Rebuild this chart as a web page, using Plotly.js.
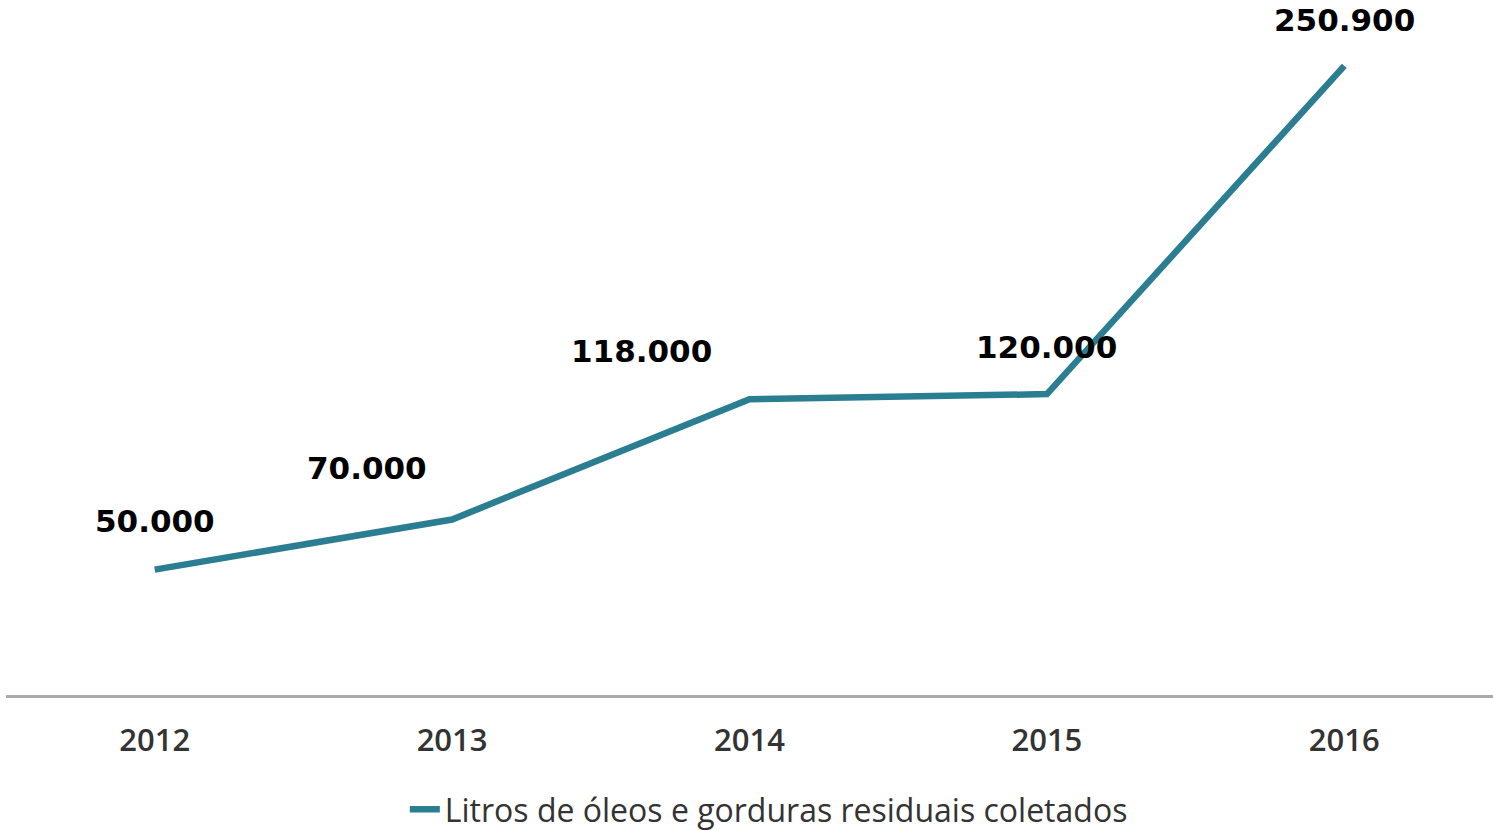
<!DOCTYPE html>
<html>
<head>
<meta charset="utf-8">
<script src="https://cdn.plot.ly/plotly-3.0.1.min.js"></script>
<style>html,body{margin:0;padding:0;background:#fff;}#chart{width:1493px;height:830px;}</style>
</head>
<body>
<div id="chart"></div>
<script>
const years = ['2012', '2013', '2014', '2015', '2016'];
const litros = [50000, 70000, 118000, 120000, 250900];
const labels = ['50.000', '70.000', '118.000', '120.000', '250.900'];
const seriesName = 'Litros de óleos e gorduras residuais coletados';

const labelShift = [[0, 49], [-85, 51], [-108, 48], [0, 47], [0, 46]];

const trace = {
  x: years, y: litros, type: 'scatter', mode: 'lines', name: seriesName,
  line: {color: '#2B7E92', width: 6.5}, hoverinfo: 'x+y'
};

const annotations = years.map((yr, i) => ({
  x: i, y: litros[i], xref: 'x', yref: 'y', text: '<b>' + labels[i] + '</b>', showarrow: false,
  xshift: labelShift[i][0], yshift: labelShift[i][1], xanchor: 'center', yanchor: 'middle',
  font: {family: 'DejaVu Sans, sans-serif', size: 31, color: '#000'}
}));

const layout = {
  width: 1493, height: 830,
  margin: {l: 6, r: 0, t: 18, b: 135, autoexpand: false},
  paper_bgcolor: '#fff', plot_bgcolor: '#fff',
  showlegend: true,
  legend: {orientation: 'h', x: 0.513, xanchor: 'center', yref: 'container', y: 0.058, yanchor: 'top',
    font: {family: 'Open Sans, sans-serif', size: 32, color: '#333'}},
  xaxis: {type: 'category', range: [-0.5, 4.5], showgrid: false, zeroline: false,
    showline: true, linecolor: '#aaa', linewidth: 3,
    ticks: 'outside', ticklen: 16, tickcolor: 'rgba(0,0,0,0)',
    tickfont: {family: 'Open Sans, sans-serif', size: 31, color: '#333', weight: 600}},
  yaxis: {range: [0, 270000], visible: false, showgrid: false, zeroline: false},
  annotations: annotations
};

Plotly.newPlot('chart', [trace], layout, {displayModeBar: false, staticPlot: true});
</script>
</body>
</html>
